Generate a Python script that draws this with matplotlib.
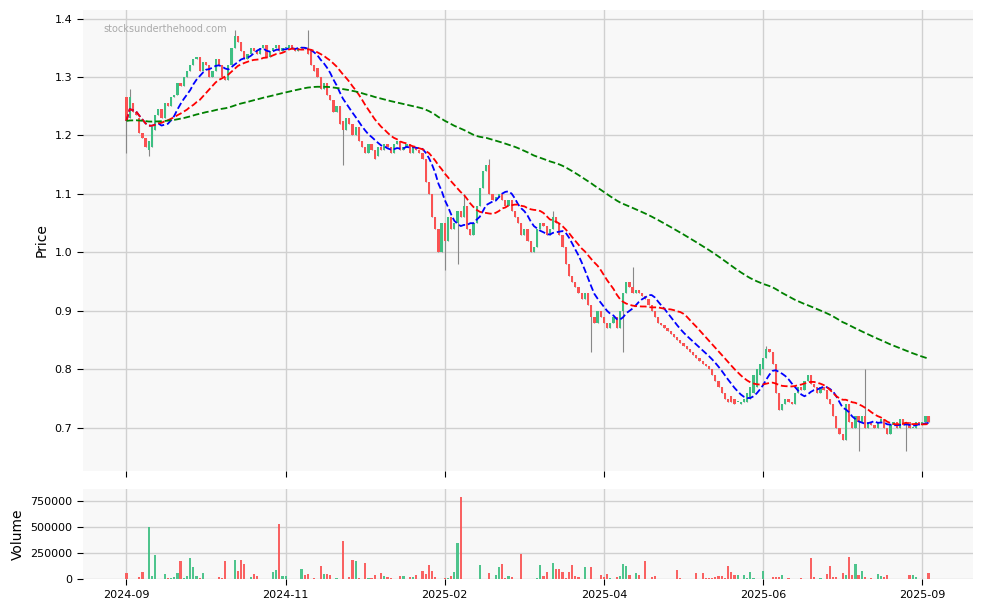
import matplotlib
matplotlib.use("Agg")
import matplotlib.pyplot as plt
import numpy as np
import pandas as pd

close = [1225,1265,1240,1235,1205,1195,1180,1190,1215,1235,
1245,1230,1255,1250,1265,1270,1290,1285,1300,1310,
1320,1330,1335,1310,1325,1320,1300,1310,1330,1320,
1300,1295,1320,1350,1370,1360,1345,1330,1340,1350,
1345,1340,1350,1355,1335,1345,1350,1355,1345,1350,
1350,1355,1350,1345,1350,1352,1348,1340,1320,1310,
1300,1280,1290,1270,1260,1240,1250,1220,1210,1230,
1220,1200,1215,1190,1180,1170,1185,1175,1160,1180,
1175,1185,1180,1170,1185,1190,1175,1180,1185,1170,
1180,1175,1170,1160,1120,1100,1060,1040,1000,1050,
1020,1060,1040,1050,1070,1060,1080,1040,1030,1050,
1080,1110,1140,1150,1100,1090,1095,1100,1090,1080,
1090,1070,1060,1050,1030,1040,1020,1000,1010,1040,
1050,1045,1030,1040,1060,1050,1030,1010,980,960,
950,940,930,920,930,910,890,880,900,890,
880,870,880,890,870,900,930,950,940,930,
935,930,925,920,910,900,890,880,875,870,
865,860,855,850,845,840,835,830,825,820,
815,810,805,800,790,780,770,760,750,745,
745,740,745,745,750,760,770,790,800,810,
820,835,830,810,760,730,740,750,745,740,
760,770,765,780,790,775,770,760,770,765,
750,740,720,700,690,680,740,710,700,720,
710,720,700,710,705,700,710,715,700,690,
705,710,700,715,705,710,700,700,710,705,710,720,710]

open_ = [1265,1230,1255,1240,1230,1205,1195,1175,1180,1210,
1235,1245,1230,1255,1250,1265,1270,1290,1285,1300,
1310,1320,1330,1335,1310,1325,1320,1300,1310,1330,
1320,1300,1295,1320,1350,1370,1360,1345,1330,1340,
1350,1345,1340,1350,1355,1335,1345,1350,1355,1345,
1350,1350,1355,1350,1345,1350,1352,1348,1345,1320,
1315,1300,1280,1290,1270,1260,1240,1250,1225,1210,
1230,1220,1200,1215,1190,1180,1170,1185,1175,1165,
1180,1175,1185,1180,1170,1185,1190,1175,1180,1185,
1170,1180,1175,1170,1160,1120,1100,1060,1040,1000,
1050,1020,1060,1040,1050,1070,1060,1080,1040,1030,
1050,1080,1110,1140,1150,1100,1090,1095,1100,1090,
1080,1090,1070,1060,1050,1030,1040,1020,1000,1010,
1040,1050,1045,1030,1040,1060,1050,1030,1010,980,
960,950,940,930,920,930,910,890,880,900,
890,880,870,880,890,870,900,930,950,940,
930,935,930,925,920,910,900,890,880,875,
870,865,860,855,850,845,840,835,830,825,
820,815,810,805,800,790,780,770,760,750,
755,750,745,740,745,745,750,760,770,790,
800,820,835,830,810,760,730,740,750,745,
740,760,770,765,780,790,775,770,760,770,
765,750,740,720,700,690,680,740,710,700,
720,710,720,700,710,705,700,710,715,700,
690,705,710,700,715,705,710,700,700,710,705,710,720]

# notable wick extremes (index: price x1000)
high_ext = {1: 1280, 34: 1380, 57: 1380, 106: 1100, 114: 1160, 134: 1070,
            159: 975, 201: 840, 232: 800, 252: 720}
low_ext = {0: 1170, 7: 1165, 68: 1150, 100: 970, 104: 980, 146: 830,
           156: 830, 230: 660, 245: 660}

# volume in thousands (index: value), others zero
vol_k = {0: 58, 4: 25, 5: 70, 7: 500, 8: 30, 9: 230, 10: 5, 12: 50, 13: 10, 14: 10,
         15: 20, 16: 60, 17: 170, 18: 15, 19: 30, 20: 200, 21: 120, 22: 30, 23: 10,
         24: 60, 29: 20, 30: 10, 31: 170, 34: 180, 35: 80, 36: 180, 37: 150,
         39: 20, 40: 50, 41: 30, 46: 70, 47: 90, 48: 530, 49: 30, 50: 30,
         55: 100, 56: 40, 57: 50, 59: 10, 61: 130, 62: 50, 63: 50, 64: 40,
         66: 10, 68: 370, 70: 20, 71: 180, 72: 170, 73: 10, 75: 160, 76: 10,
         77: 15, 78: 40, 80: 60, 81: 30, 82: 20, 83: 10, 86: 30, 87: 30,
         89: 20, 90: 20, 91: 40, 93: 80, 94: 50, 95: 140, 96: 80, 97: 20,
         100: 10, 101: 10, 102: 30, 103: 70, 104: 350, 105: 790, 106: 5,
         108: 5, 109: 5, 111: 140, 114: 60, 116: 40, 117: 120, 118: 150,
         119: 10, 120: 30, 121: 20, 124: 240, 126: 5, 129: 10, 130: 140,
         131: 30, 132: 70, 134: 155, 135: 100, 136: 100, 137: 70, 138: 15,
         139: 70, 140: 140, 141: 30, 142: 20, 144: 120, 146: 120, 149: 40,
         150: 20, 151: 50, 152: 15, 154: 20, 155: 30, 156: 145, 157: 130,
         158: 40, 160: 60, 161: 40, 163: 175, 164: 5, 165: 20, 166: 30,
         168: 5, 169: 5, 171: 5, 173: 90, 174: 10, 176: 5, 179: 60, 181: 60,
         182: 10, 183: 10, 184: 15, 185: 20, 186: 35, 187: 35, 188: 10,
         189: 130, 190: 70, 191: 40, 192: 40, 194: 40, 195: 15, 196: 70,
         197: 10, 200: 80, 203: 20, 204: 20, 205: 20, 206: 40, 208: 10,
         212: 10, 215: 200, 216: 20, 218: 10, 220: 50, 221: 130, 222: 20,
         223: 20, 225: 60, 226: 40, 227: 210, 228: 40, 229: 150, 230: 40,
         231: 80, 232: 20, 234: 10, 236: 50, 237: 30, 238: 20, 239: 40,
         241: 5, 243: 5, 246: 45, 247: 45, 248: 20, 251: 5, 252: 60}

tick_pos = [0, 50, 100, 150, 200, 250]
tick_labels = ["2024-09", "2024-11", "2025-02", "2025-04", "2025-06", "2025-09"]

c = np.array(close) / 1000
o = np.array(open_) / 1000
n = len(c)
h = np.maximum(o, c)
l = np.minimum(o, c)
for k, v in high_ext.items():
    h[k] = max(h[k], v / 1000)
for k, v in low_ext.items():
    l[k] = min(l[k], v / 1000)
vol = np.zeros(n)
for k, v in vol_k.items():
    vol[k] = v * 1000
x = np.arange(n)

UP, DN = "#3dbf82", "#fa5252"
cols = [UP if cc >= oo else DN for oo, cc in zip(o, c)]

fig = plt.figure(figsize=(9.83, 6.11), dpi=100)
ax = fig.add_axes([0.084, 0.229, 0.906, 0.755])
axv = fig.add_axes([0.084, 0.052, 0.906, 0.148], sharex=ax)
for a in (ax, axv):
    a.set_facecolor("#f8f8f8")
    a.grid(True, color="#d0d0d0", linewidth=1)
    a.set_axisbelow(True)
    for s in a.spines.values():
        s.set_visible(False)
    a.tick_params(labelsize=8, length=4)

ax.vlines(x, l, h, color="#888888", linewidth=0.8, zorder=2)
body_b = np.minimum(o, c)
body_h = np.abs(c - o)
body_h = np.where(body_h < 0.001, 0.001, body_h)
ax.bar(x, body_h, bottom=body_b, width=0.7, color=cols, zorder=3, linewidth=0)

s = pd.Series(c)
ax.plot(x, s.rolling(10, min_periods=1).mean(), "--", color="blue", lw=1.3, zorder=4)
ax.plot(x, s.rolling(20, min_periods=1).mean(), "--", color="red", lw=1.3, zorder=4)
ax.plot(x, s.ewm(span=120, adjust=False).mean(), "--", color="green", lw=1.3, zorder=4)

ax.set_ylim(0.626, 1.415)
ax.set_xlim(-13.8, 266)
ax.set_ylabel("Price", fontsize=10)
ax.text(0.023, 0.97, "stocksunderthehood.com", transform=ax.transAxes,
        fontsize=7, color="#aaaaaa", va="top")
plt.setp(ax.get_xticklabels(), visible=False)

axv.bar(x, vol, width=0.7, color=cols, alpha=0.9, linewidth=0)
axv.set_ylim(0, 865000)
axv.set_yticks([0, 250000, 500000, 750000])
axv.set_yticklabels(["0", "250000", "500000", "750000"])
axv.set_ylabel("Volume", fontsize=10)
axv.set_xticks(tick_pos)
axv.set_xticklabels(tick_labels)

fig.savefig("out.png", dpi=100)
